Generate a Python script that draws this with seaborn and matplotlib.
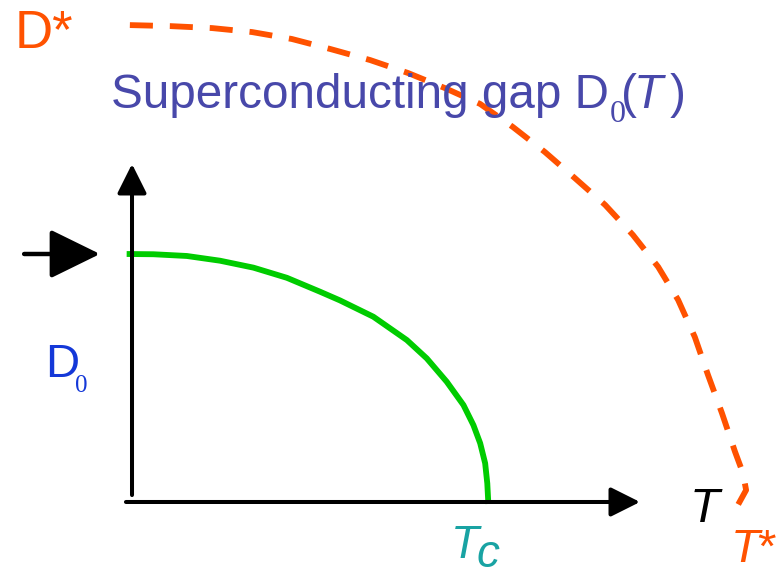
import numpy as np
import matplotlib
matplotlib.use("Agg")
import matplotlib.pyplot as plt
import seaborn as sns

# Data (T in units of Tc, gap in units of D0)
t_gap = [-0.015, 0.06, 0.154, 0.247, 0.341, 0.435, 0.528, 0.584, 0.678,
         0.772, 0.828, 0.884, 0.931, 0.959, 0.978, 0.992, 0.998, 1.001]
gap = [1.0, 0.999, 0.992, 0.973, 0.945, 0.904, 0.848, 0.813, 0.747,
       0.653, 0.579, 0.485, 0.391, 0.31, 0.237, 0.156, 0.075, -0.008]

t_pseudo = [-0.006, 0.107, 0.225, 0.337, 0.449, 0.556, 0.669, 0.775, 0.879,
            0.978, 1.07, 1.16, 1.244, 1.329, 1.407, 1.478, 1.534, 1.581,
            1.618, 1.657, 1.694, 1.716, 1.725, 1.702]
pseudo = [1.923, 1.919, 1.911, 1.895, 1.867, 1.827, 1.782, 1.73, 1.669,
          1.605, 1.512, 1.411, 1.306, 1.198, 1.077, 0.948, 0.815, 0.665,
          0.512, 0.359, 0.202, 0.117, 0.048, -0.012]

sns.set_style("white")
plt.rcParams["font.family"] = ["Liberation Sans", "DejaVu Sans"]

orange = "#FF5200"
navy = "#4848AA"
teal = "#19A3A3"

fig = plt.figure(figsize=(7.8, 5.75), dpi=100)
ax = fig.add_axes([0, 0, 1, 1])

# Curves
sns.lineplot(x=t_gap, y=gap, sort=False, estimator=None, color="#00CC00",
             linewidth=4.2, ax=ax, solid_capstyle="butt")
sns.lineplot(x=t_pseudo, y=pseudo, sort=False, estimator=None, color=orange,
             linewidth=4.2, dashes=(3.95, 2.9), ax=ax)

# Axes arrows
ax.annotate("", xy=(0, 1.363), xytext=(0, 0.028),
            arrowprops=dict(arrowstyle="-|>,head_length=0.9,head_width=0.45",
                            lw=2.9, color="black", shrinkA=0, shrinkB=0,
                            mutation_scale=20))
ax.annotate("", xy=(1.427, 0), xytext=(-0.017, 0),
            arrowprops=dict(arrowstyle="-|>,head_length=0.9,head_width=0.45",
                            lw=2.9, color="black", shrinkA=0, shrinkB=0,
                            mutation_scale=20))
ax.annotate("", xy=(-0.09, 1.0), xytext=(-0.303, 1.0),
            arrowprops=dict(arrowstyle="-|>,head_length=1.55,head_width=0.76",
                            lw=3.2, color="black", shrinkA=0, shrinkB=0,
                            mutation_scale=20))

ax.set_xlim(-0.3708, 1.8202)
ax.set_ylim(-0.2944, 2.0242)
ax.axis("off")
if ax.get_legend():
    ax.get_legend().remove()


def fx(x):
    return x / 780


def fy(y):
    return 1 - y / 575


# Labels
fig.text(fx(15), fy(48), "D*", fontsize=38, color=orange, va="baseline")

# title pieces
fig.text(fx(111), fy(108), "Superconducting gap D", fontsize=34.3,
         color=navy, va="baseline")
fig.text(fx(610), fy(122), "0", fontsize=23, family="Liberation Serif",
         color=navy, va="baseline")
fig.text(fx(621), fy(108), "(", fontsize=34.3, color=navy, va="baseline")
fig.text(fx(634), fy(108), "T", fontsize=34.3, style="italic", color=navy,
         va="baseline")
fig.text(fx(670), fy(108), ")", fontsize=34.3, color=navy, va="baseline")

# D0 axis label
fig.text(fx(45), fy(377), "D", fontsize=34, color="#1438D8", va="baseline")
fig.text(fx(75), fy(392), "0", fontsize=18, family="Liberation Serif",
         color="#1438D8", va="baseline")

fig.text(fx(690), fy(522), "T", fontsize=35, style="italic", color="black",
         va="baseline")
fig.text(fx(451), fy(558), "T", fontsize=33, style="italic", color=teal,
         va="baseline")
fig.text(fx(476), fy(567), "c", fontsize=33, style="italic", color=teal,
         va="baseline")
fig.text(fx(731), fy(562), "T", fontsize=34, style="italic", color=orange,
         va="baseline")
fig.text(fx(757), fy(562), "*", fontsize=34, color=orange, va="baseline")

plt.savefig("out.png", dpi=100)
plt.close(fig)
